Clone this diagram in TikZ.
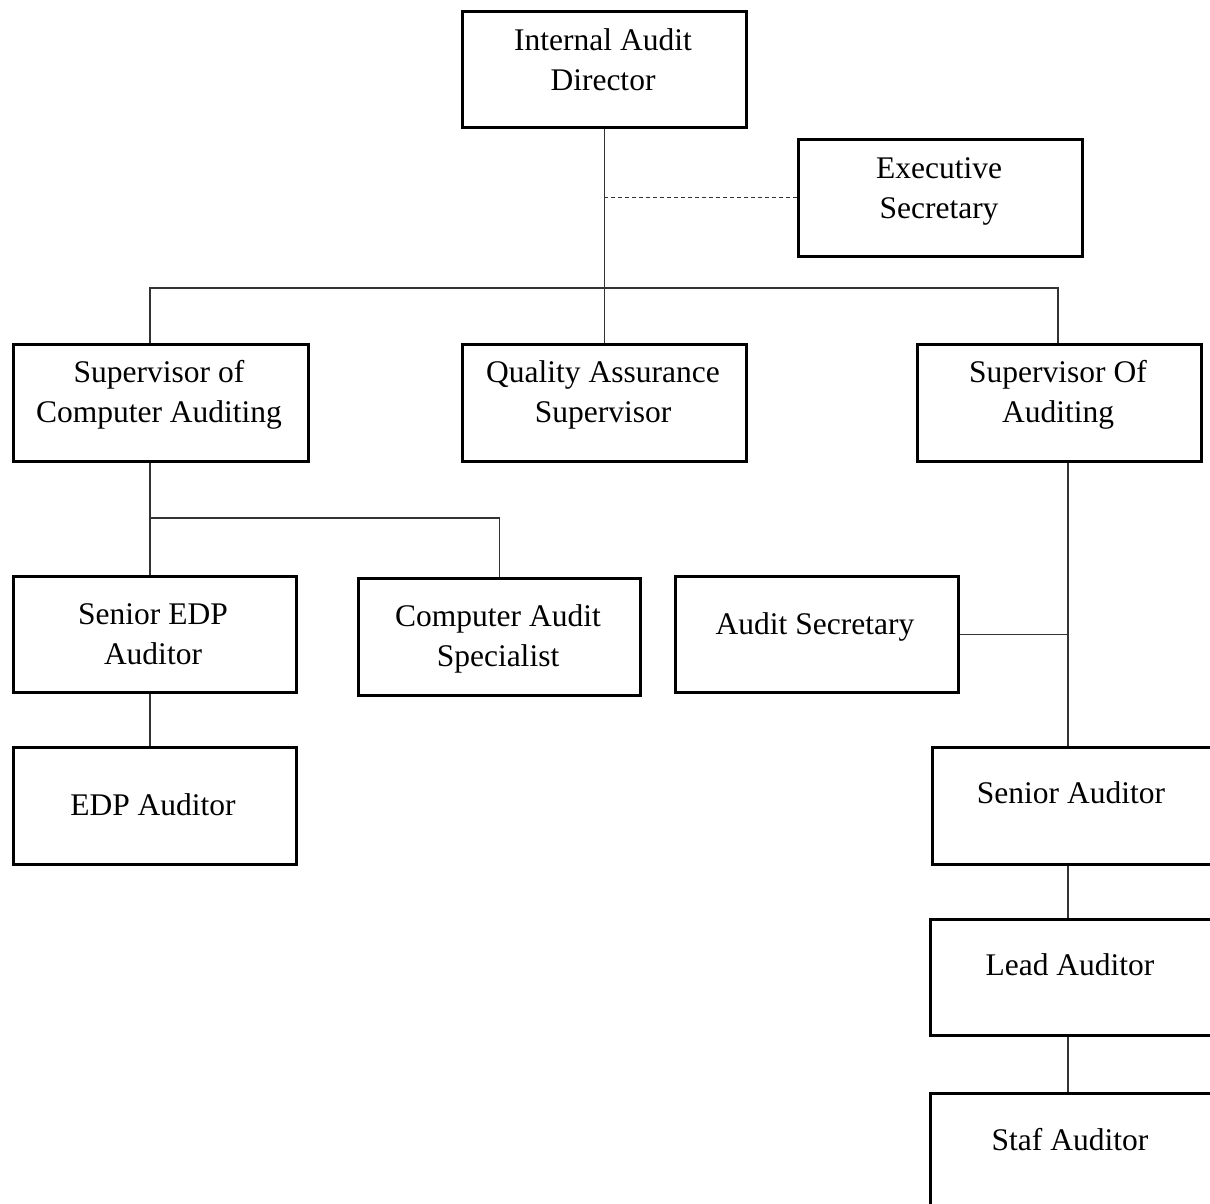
\documentclass[tikz,border=0pt]{standalone}
\usepackage{fontspec}
\setmainfont{Liberation Serif}
\newcommand{\boxtxt}[1]{\fontsize{31.5}{40}\selectfont\parbox[t]{320pt}{\centering #1}}
\begin{document}
\begin{tikzpicture}[x=1pt,y=-1pt,
  orgbox/.style={draw=black, line width=2.6pt, inner sep=0pt, anchor=north west},
  lbl/.style={anchor=base, inner sep=0pt},
  conn/.style={draw=black!80, line width=1.3pt}]
\useasboundingbox (0,0) rectangle (1210,1203);
\clip (0,0) rectangle (1210,1203);
% boxes
\node[orgbox, minimum width=284pt, minimum height=116pt] (dir)  at (461,10)  {};
\node[orgbox, minimum width=284pt, minimum height=117pt] (exec) at (797,138) {};
\node[orgbox, minimum width=295pt, minimum height=117pt] (supc) at (12,343)  {};
\node[orgbox, minimum width=284pt, minimum height=117pt] (qa)   at (461,343) {};
\node[orgbox, minimum width=284pt, minimum height=117pt] (supa) at (916,343) {};
\node[orgbox, minimum width=283pt, minimum height=116pt] (sedp) at (12,575)  {};
\node[orgbox, minimum width=282pt, minimum height=117pt] (cas)  at (357,577) {};
\node[orgbox, minimum width=283pt, minimum height=117pt] (edp)  at (12,746)  {};
\node[orgbox, minimum width=283pt, minimum height=116pt] (asec) at (674,575) {};
\node[orgbox, minimum width=280pt, minimum height=117pt] (sa)   at (931,746) {};
\node[orgbox, minimum width=281pt, minimum height=116pt] (lead) at (929,918) {};
\node[orgbox, minimum width=281pt, minimum height=118pt] (staf) at (929,1092) {};
% texts
\node[lbl] (dirt)  at (603,50)   {\boxtxt{Internal Audit\\Director}};
\node[lbl] (exect) at (939,178)  {\boxtxt{Executive\\Secretary}};
\node[lbl] (supct) at (159,382)  {\boxtxt{Supervisor of\\Computer Auditing}};
\node[lbl] (qat)   at (603,382)  {\boxtxt{Quality Assurance\\Supervisor}};
\node[lbl] (supat) at (1058,382) {\boxtxt{Supervisor Of\\Auditing}};
\node[lbl] (sedpt) at (153,624)  {\boxtxt{Senior EDP\\Auditor}};
\node[lbl] (cast)  at (498,626)  {\boxtxt{Computer Audit\\Specialist}};
\node[lbl] (edpt)  at (153,815)  {\boxtxt{EDP Auditor}};
\node[lbl] (asect) at (815,634)  {\boxtxt{Audit Secretary}};
\node[lbl] (sat)   at (1071,803) {\boxtxt{Senior Auditor}};
\node[lbl] (leadt) at (1070,975) {\boxtxt{Lead Auditor}};
\node[lbl] (staft) at (1070,1150){\boxtxt{Staf Auditor}};
% junction coordinates
\coordinate (busL) at (150,288);
\coordinate (busR) at (1058,288);
\coordinate (c1) at (150,518);
\coordinate (r1) at (1068,632);
% connectors
\draw[conn] (dir.south) -- (qa.north);
\draw[conn, dashed, dash pattern=on 4pt off 3pt] (exec.west) -- (exec.west -| dir.south);
\draw[conn] (busL |- supc.north) -- (busL) -- (busR) -- (busR |- supa.north);
\draw[draw=black, line width=2.2pt] (c1 |- supc.south) -- ++(0,25);
\draw[conn] (c1 |- supc.south) -- (c1 |- sedp.north);
\draw[conn] (c1) -| (cas.north);
\draw[conn] (c1 |- sedp.south) -- (c1 |- edp.north);
\draw[conn] (r1 |- supa.south) -- (r1 |- sa.north);
\draw[conn] (asec.east) -- (asec.east -| r1);
\draw[conn] (r1 |- sa.south) -- (r1 |- lead.north);
\draw[conn] (r1 |- lead.south) -- (r1 |- staf.north);
\end{tikzpicture}
\end{document}
